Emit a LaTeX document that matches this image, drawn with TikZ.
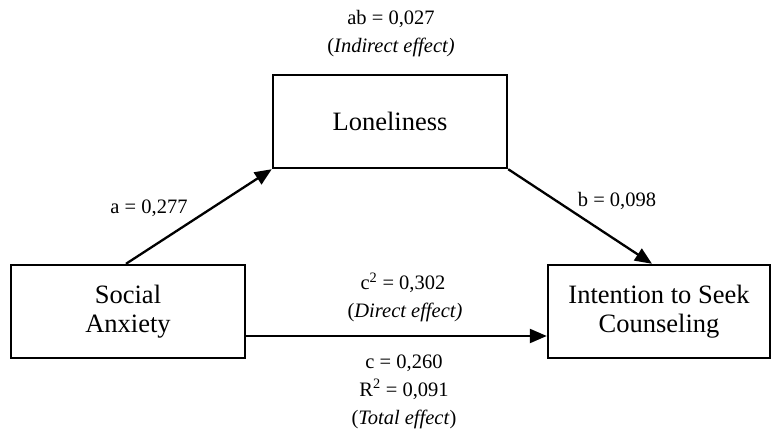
\documentclass[tikz,border=0pt]{standalone}
\usepackage{fontspec}
\setmainfont{Liberation Serif}
\usetikzlibrary{arrows.meta,calc}
\begin{document}
\begin{tikzpicture}[x=1pt,y=-1pt,
  box/.style={draw,line width=2.4pt,inner sep=0pt,minimum height=93pt,align=center,
    font=\fontsize{26.5}{29}\selectfont},
  lab/.style={inner sep=0pt,anchor=base,font=\fontsize{20.5}{28}\selectfont},
  conn/.style={line width=2.3pt,-{Triangle[length=17pt,width=14pt]}}]
\useasboundingbox (0,0) rectangle (771,430);
\node[box,minimum width=234pt] (lon) at (390,121.5) {Loneliness};
\node[box,minimum width=234pt] (soc) at (128,311.5) {Social\\Anxiety};
\node[box,minimum width=222pt] (int) at (659,311.5) {Intention to Seek\\Counseling};
\coordinate (intin) at ([xshift=-7pt]int.north);
\coordinate (socout) at ([xshift=-2pt]soc.north);
\draw[conn] (socout) -- (lon.south west);
\draw[conn] (lon.south east) -- (intin);
\draw[conn] ([yshift=-24.5pt]soc.east) -- ([yshift=-24.5pt]int.west);
\node[lab] (ab) at (391,25) {ab = 0,027};
\node[lab] (ind) at (391,53) {(\textit{Indirect effect)}};
\node[lab] (la) at (149,214) {a = 0,277};
\node[lab] (lb) at (617,207) {b = 0,098};
\node[lab] (lc2) at (403,290) {c\textsuperscript{2} = 0,302};
\node[lab] (dir) at (405,318) {(\textit{Direct effect)}};
\node[lab] (lc) at (404,368) {c = 0,260};
\node[lab] (lr) at (404,396) {R\textsuperscript{2} = 0,091};
\node[lab] (tot) at (404,424) {(\textit{Total effect})};
\end{tikzpicture}
\end{document}
